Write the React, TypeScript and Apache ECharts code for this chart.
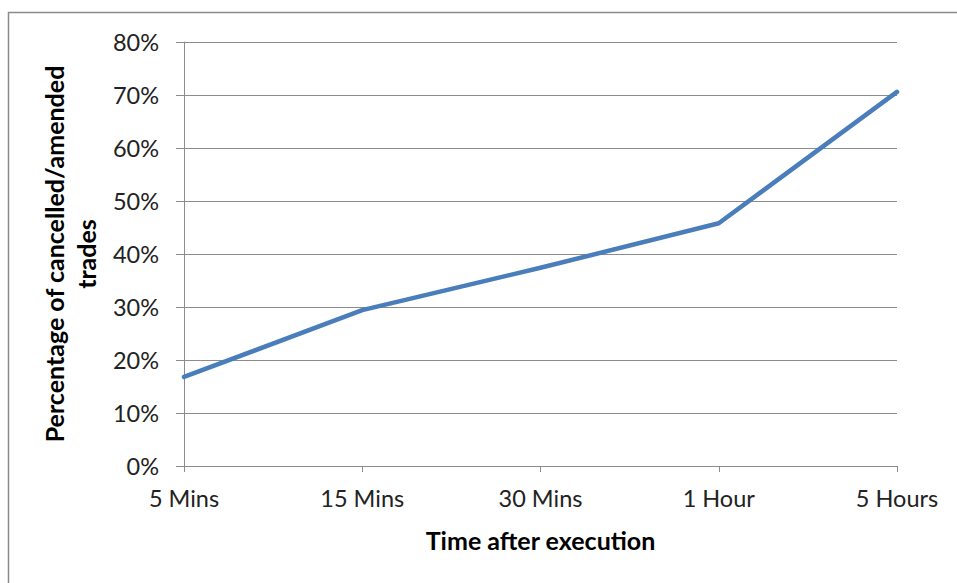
import React, { useEffect, useRef } from "react";
import * as echarts from "echarts";

const categories = ["5 Mins", "15 Mins", "30 Mins", "1 Hour", "5 Hours"];
const values = [16.8, 29.4, 37.4, 45.8, 70.6];
const yTicks = [0, 10, 20, 30, 40, 50, 60, 70, 80];

export default function App() {
  const ref = useRef<HTMLDivElement>(null);
  useEffect(() => {
    if (!ref.current) return;
    const chart = echarts.init(ref.current, null, { renderer: "svg" });
    const font = "Lato, 'Open Sans', sans-serif";
    chart.setOption({
      animation: false,
      backgroundColor: "#ffffff",
      graphic: [
        {
          type: "rect",
          shape: { x: 8.5, y: 12.5, width: 1000, height: 700 },
          style: { fill: "none", stroke: "#8a8a8a", lineWidth: 1.5 },
          silent: true,
        },
      ],
      grid: { left: 184, right: 60, top: 42, bottom: 117 },
      xAxis: {
        type: "category",
        data: categories,
        boundaryGap: false,
        axisLine: { lineStyle: { color: "#8c8c8c", width: 1 } },
        axisTick: { show: true, length: 6, inside: false, lineStyle: { color: "#8c8c8c" }, alignWithLabel: true },
        axisLabel: { color: "#222", fontSize: 23.5, fontFamily: font, margin: 20 },
        name: "Time after execution",
        nameLocation: "middle",
        nameGap: 61,
        nameTextStyle: { color: "#000", fontSize: 25, fontWeight: "bold", fontFamily: font },
      },
      yAxis: {
        type: "value",
        min: 0,
        max: 80,
        interval: 10,
        axisLine: { show: true, lineStyle: { color: "#8c8c8c", width: 1 } },
        axisTick: { show: true, length: 8, lineStyle: { color: "#8c8c8c" } },
        splitLine: { show: true, lineStyle: { color: "#8c8c8c", width: 1 } },
        axisLabel: {
          color: "#222",
          fontSize: 23.5,
          fontFamily: font,
          margin: 25,
          formatter: (v: number) => (yTicks.includes(v) ? v + "%" : ""),
        },
        name: "Percentage of cancelled/amended\ntrades",
        nameLocation: "middle",
        nameGap: 78,
        nameRotate: 90,
        nameTextStyle: { color: "#000", fontSize: 25, fontWeight: "bold", fontFamily: font, lineHeight: 32 },
      },
      series: [
        {
          type: "line",
          data: values,
          symbol: "none",
          lineStyle: { color: "#4a7ebb", width: 4.5, cap: "round", join: "round" },
        },
      ],
    });
    return () => chart.dispose();
  }, []);
  return (
    <div
      ref={ref}
      style={{ position: "absolute", left: 0, top: 0, width: 957, height: 583 }}
    />
  );
}
